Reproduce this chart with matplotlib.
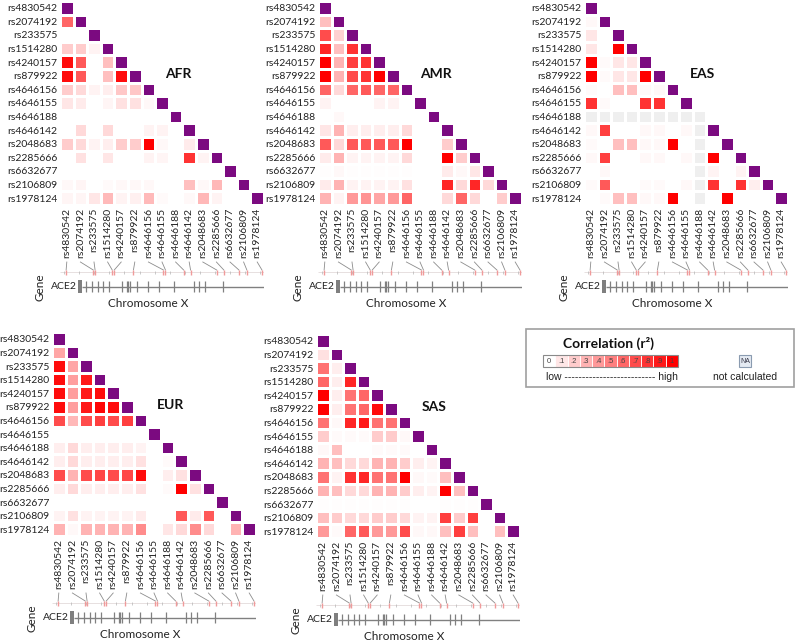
import numpy as np
import matplotlib
matplotlib.use("Agg")
import matplotlib.pyplot as plt
from matplotlib.colors import LinearSegmentedColormap, ListedColormap
from matplotlib.patches import Rectangle

plt.rcParams['font.family'] = ['Lato', 'DejaVu Sans']

# ---------------- data ----------------
snps = ["rs4830542", "rs2074192", "rs233575", "rs1514280", "rs4240157",
        "rs879922", "rs4646156", "rs4646155", "rs4646188", "rs4646142",
        "rs2048683", "rs2285666", "rs6632677", "rs2106809", "rs1978124"]

# lower-triangle r2 values, row i holds columns 0..i-1
afr_r2 = [
    [],
    [0.6],
    [0.0, 0.0],
    [0.2, 0.2, 0.05],
    [0.95, 0.65, 0.0, 0.25],
    [0.95, 0.65, 0.0, 0.25, 0.95],
    [0.2, 0.15, 0.05, 0.07, 0.22, 0.22],
    [0.1, 0.08, 0.0, 0.04, 0.12, 0.12, 0.03],
    [0.0, 0.0, 0.0, 0.0, 0.0, 0.0, 0.0, 0.0],
    [0.0, 0.15, 0.0, 0.15, 0.0, 0.0, 0.05, 0.05, 0.0],
    [0.2, 0.15, 0.05, 0.07, 0.2, 0.2, 1.0, 0.03, 0.0, 0.08],
    [0.0, 0.12, 0.0, 0.1, 0.0, 0.0, 0.05, 0.04, 0.0, 0.8, 0.05],
    [0.0, 0.0, 0.0, 0.0, 0.0, 0.0, 0.0, 0.0, 0.0, 0.0, 0.0, 0.0],
    [0.03, 0.04, 0.0, 0.02, 0.03, 0.03, 0.03, 0.0, 0.0, 0.25, 0.03, 0.28, 0.0],
    [0.04, 0.04, 0.1, 0.27, 0.05, 0.06, 0.27, 0.02, 0.0, 0.03, 0.28, 0.05, 0.0, 0.0],
]

amr_r2 = [
    [],
    [0.25],
    [0.7, 0.18],
    [0.85, 0.25, 0.8],
    [1.0, 0.3, 0.75, 0.8],
    [1.0, 0.3, 0.7, 0.8, 1.0],
    [0.6, 0.15, 0.6, 0.65, 0.6, 0.6],
    [0.05, 0.0, 0.0, 0.0, 0.05, 0.05, 0.0],
    [0.0, 0.03, 0.0, 0.0, 0.0, 0.0, 0.0, 0.0],
    [0.1, 0.3, 0.07, 0.07, 0.07, 0.07, 0.15, 0.0, 0.0],
    [0.65, 0.15, 0.65, 0.65, 0.65, 0.65, 1.0, 0.0, 0.0, 0.2],
    [0.08, 0.3, 0.05, 0.05, 0.05, 0.05, 0.15, 0.0, 0.0, 1.0, 0.2],
    [0.01, 0.03, 0.01, 0.01, 0.01, 0.01, 0.01, 0.0, 0.0, 0.08, 0.03, 0.1],
    [0.08, 0.3, 0.05, 0.05, 0.05, 0.05, 0.12, 0.0, 0.0, 0.85, 0.15, 0.85, 0.15],
    [0.3, 0.05, 0.4, 0.42, 0.35, 0.4, 0.6, 0.0, 0.0, 0.15, 0.6, 0.15, 0.0, 0.2],
]

eas_r2 = [
    [],
    [0.03],
    [0.1, 0.0],
    [0.1, 0.0, 1.0],
    [1.0, 0.02, 0.1, 0.1],
    [1.0, 0.02, 0.1, 0.1, 1.0],
    [0.02, 0.0, 0.25, 0.25, 0.03, 0.03],
    [0.8, 0.02, 0.0, 0.0, 0.8, 0.8, 0.0],
    [None, None, None, None, None, None, None, None],
    [0.03, 0.75, 0.0, 0.0, 0.03, 0.03, 0.0, 0.03, None],
    [0.02, 0.0, 0.25, 0.25, 0.03, 0.03, 1.0, 0.0, None, 0.0],
    [0.03, 0.75, 0.0, 0.0, 0.03, 0.03, 0.0, 0.03, None, 1.0, 0.0],
    [0.0, 0.03, 0.0, 0.0, 0.0, 0.0, 0.0, 0.0, None, 0.05, 0.0, 0.05],
    [0.02, 0.65, 0.0, 0.0, 0.02, 0.02, 0.0, 0.03, None, 0.8, 0.0, 0.8, 0.07],
    [0.0, 0.02, 0.25, 0.25, 0.03, 0.03, 1.0, 0.0, None, 0.0, 1.0, 0.0, 0.0, 0.0],
]
eas_na = ["rs4646188"]

eur_r2 = [
    [],
    [0.35],
    [0.95, 0.35],
    [0.95, 0.38, 0.9],
    [0.95, 0.38, 0.9, 0.95],
    [0.95, 0.38, 0.9, 0.98, 0.95],
    [0.7, 0.28, 0.7, 0.75, 0.7, 0.75],
    [0.0, 0.0, 0.0, 0.0, 0.0, 0.0, 0.0],
    [0.07, 0.15, 0.07, 0.07, 0.07, 0.07, 0.05, 0.0],
    [0.07, 0.15, 0.07, 0.07, 0.07, 0.07, 0.12, 0.0, 0.02],
    [0.7, 0.3, 0.7, 0.72, 0.7, 0.72, 0.95, 0.0, 0.07, 0.12],
    [0.07, 0.15, 0.07, 0.07, 0.07, 0.07, 0.12, 0.0, 0.02, 1.0, 0.12],
    [0.0, 0.0, 0.0, 0.0, 0.0, 0.0, 0.0, 0.0, 0.0, 0.0, 0.0, 0.0],
    [0.05, 0.12, 0.05, 0.05, 0.05, 0.05, 0.08, 0.0, 0.0, 0.65, 0.08, 0.65, 0.0],
    [0.3, 0.03, 0.3, 0.3, 0.3, 0.3, 0.45, 0.0, 0.1, 0.15, 0.45, 0.15, 0.0, 0.3],
]

sas_r2 = [
    [],
    [0.12],
    [0.55, 0.07],
    [0.6, 0.07, 0.85],
    [1.0, 0.07, 0.55, 0.6],
    [1.0, 0.07, 0.55, 0.6, 0.95],
    [0.55, 0.03, 0.85, 0.9, 0.55, 0.55],
    [0.2, 0.02, 0.02, 0.02, 0.2, 0.2, 0.03],
    [0.03, 0.25, 0.0, 0.0, 0.02, 0.02, 0.02, 0.0],
    [0.3, 0.25, 0.15, 0.15, 0.3, 0.3, 0.2, 0.07, 0.05],
    [0.55, 0.05, 0.8, 0.85, 0.55, 0.55, 1.0, 0.03, 0.02, 0.25],
    [0.3, 0.25, 0.15, 0.15, 0.3, 0.3, 0.2, 0.07, 0.05, 1.0, 0.25],
    [0.01, 0.01, 0.01, 0.01, 0.01, 0.01, 0.01, 0.0, 0.0, 0.01, 0.01, 0.01],
    [0.25, 0.2, 0.15, 0.15, 0.2, 0.2, 0.15, 0.05, 0.05, 0.75, 0.2, 0.75, 0.0],
    [0.4, 0.02, 0.6, 0.65, 0.4, 0.4, 0.7, 0.03, 0.03, 0.25, 0.75, 0.25, 0.0, 0.25],
]

# relative position of each SNP along the displayed region of chromosome X (0..1)
snp_pos = [0.030, 0.163, 0.172, 0.256, 0.266, 0.360, 0.507, 0.517,
           0.606, 0.640, 0.768, 0.803, 0.877, 0.916, 0.990]
# ACE2 gene model: first (wide) exon block and remaining exon ticks
exon_block = (0.089, 0.108)
exon_pos = [0.128, 0.158, 0.187, 0.212, 0.241, 0.305, 0.330, 0.335, 0.345,
            0.379, 0.429, 0.483, 0.557, 0.655, 0.680, 0.709, 0.798]
gene_name = "ACE2"

legend_levels = [0.0, 0.1, 0.2, 0.3, 0.4, 0.5, 0.6, 0.7, 0.8, 0.9, 1.0]
legend_labels = ["0", ".1", ".2", ".3", ".4", ".5", ".6", ".7", ".8", ".9", "1"]

# ---------------- layout ----------------
W, H = 796, 642
S = 204
n = len(snps)
fig = plt.figure(figsize=(W / 100, H / 100), dpi=100)

cmap = LinearSegmentedColormap.from_list("ld", ["#ffffff", "#ff0000"])
purple = "#7b0a80"
na_color = "#efefef"

panels = [
    ("AFR", 60, 1, afr_r2, []),
    ("AMR", 318, 1, amr_r2, []),
    ("EAS", 584, 1, eas_r2, eas_na),
    ("EUR", 52, 332, eur_r2, []),
    ("SAS", 316, 334, sas_r2, []),
]


def draw_panel(name, x0, y0, rows, na):
    ax = fig.add_axes([x0 / W, 1 - (y0 + S) / H, S / W, S / H])
    vals = np.full((n, n), np.nan)
    diag = np.full((n, n), np.nan)
    nam = np.full((n, n), np.nan)
    for i in range(n):
        for j in range(i + 1):
            if snps[i] in na or snps[j] in na:
                nam[i, j] = 1
            elif i == j:
                diag[i, j] = 1
            else:
                v = rows[i][j]
                if v is None:
                    nam[i, j] = 1
                else:
                    vals[i, j] = v
    kw = dict(edgecolors="white", linewidth=0.9)
    ax.pcolormesh(np.ma.masked_invalid(vals), cmap=cmap, vmin=0, vmax=1, **kw)
    ax.pcolormesh(np.ma.masked_invalid(diag), cmap=ListedColormap([purple]),
                  vmin=0, vmax=1, **kw)
    ax.pcolormesh(np.ma.masked_invalid(nam), cmap=ListedColormap([na_color]),
                  vmin=0, vmax=1, **kw)
    ax.set_xlim(0, n)
    ax.set_ylim(n, 0)
    ax.set_xticks(np.arange(n) + 0.5)
    ax.set_xticklabels(snps, rotation=90, fontsize=7.5, color="#222222")
    ax.set_yticks(np.arange(n) + 0.5)
    ax.set_yticklabels(snps, fontsize=7.5, color="#222222")
    ax.tick_params(length=0, pad=2)
    for s in ax.spines.values():
        s.set_visible(False)
    ax.patch.set_alpha(0)
    ax.text(8.7, 5.4, name, fontsize=10, fontweight="bold", ha="center",
            va="center", color="#111111")

    # gene / position track (y in pixels below panel top)
    tax = fig.add_axes([x0 / W, 1 - (y0 + 312) / H, S / W, (312 - 256) / H])
    tax.set_xlim(0, 1)
    tax.set_ylim(312, 256)
    tax.axis("off")
    for i in range(n):
        lx = (i + 0.5) / n
        tax.plot([lx, snp_pos[i]], [261, 269], color="#8c8c8c", lw=0.6)
    tax.hlines(271, 0, 1, color="#e3dada", lw=0.6)
    tax.vlines(np.arange(0.02, 1.0, 0.074), 270, 272.5, color="#b5b5b5", lw=0.5)
    tax.vlines(snp_pos, 268.5, 273.5, color="#f09a9a", lw=1.0)
    tax.add_patch(Rectangle((exon_block[0], 279), exon_block[1] - exon_block[0],
                            13, facecolor="#7f7f7f", edgecolor="none"))
    tax.hlines(285.5, exon_block[1], 1.01, color="#808080", lw=1.0)
    tax.vlines(exon_pos, 280, 291, color="#808080", lw=0.9)
    tax.text(exon_block[0] - 0.008, 285.5, gene_name, ha="right", va="center",
             fontsize=7.5, color="#222222")
    tax.text(-0.1, 286, "Gene", rotation=90, ha="center", va="center",
             fontsize=8.5, color="#222222")
    tax.text(0.43, 302.5, "Chromosome X", ha="center", va="center",
             fontsize=8.5, color="#222222")


for p in panels:
    draw_panel(*p)

# ---------------- legend ----------------
lax = fig.add_axes([0, 0, 1, 1])
lax.set_xlim(0, W)
lax.set_ylim(H, 0)
lax.axis("off")
lax.patch.set_alpha(0)
lax.add_patch(Rectangle((526, 329), 268, 58, fill=False, edgecolor="#a0a0a0", lw=1.2))
lax.text(563, 343, "Correlation (r²)", fontsize=10, fontweight="bold",
         ha="left", va="center", color="#111111")
cw = 135 / len(legend_levels)
for k, (lev, lab) in enumerate(zip(legend_levels, legend_labels)):
    xx = 543 + k * cw
    lax.add_patch(Rectangle((xx, 355), cw, 12, facecolor=cmap(lev),
                            edgecolor="white", lw=0.6))
    lax.text(xx + cw / 2, 361.5, lab, fontsize=5.5, ha="center", va="center",
             color="#444444", family=["Liberation Sans", "DejaVu Sans"])
lax.add_patch(Rectangle((543, 355), 135, 12, fill=False, edgecolor="#8a8a8a", lw=0.8))
lax.text(546, 377, "low " + "-" * 26 + " high", fontsize=7.5, ha="left",
         va="center", color="#222222", family=["Liberation Sans", "DejaVu Sans"])
lax.add_patch(Rectangle((739, 355), 12, 12, facecolor="#e4eaf2",
                        edgecolor="#8a9bb0", lw=0.8))
lax.text(745, 361.5, "NA", fontsize=5, ha="center", va="center", color="#334",
         family=["Liberation Sans", "DejaVu Sans"])
lax.text(745.5, 377, "not calculated", fontsize=7.5, ha="center", va="center",
         color="#222222", family=["Liberation Sans", "DejaVu Sans"])

fig.savefig("out.png", dpi=100)
